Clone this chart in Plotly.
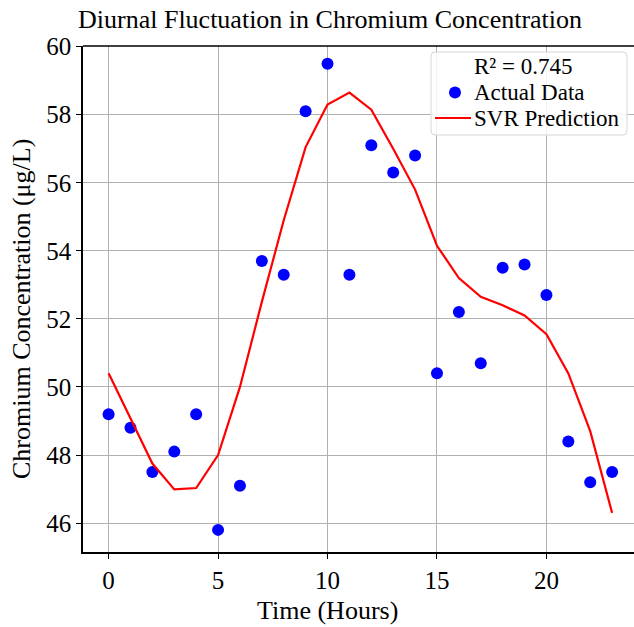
import plotly.graph_objects as go

hours = list(range(24))
actual = [49.2, 48.8, 47.5, 48.1, 49.2, 45.8, 47.1, 53.7, 53.3, 58.1, 59.5, 53.3,
          57.1, 56.3, 56.8, 50.4, 52.2, 50.7, 53.5, 53.6, 52.7, 48.4, 47.2, 47.5]
svr_pred = [50.4, 49.05, 47.75, 46.99, 47.03, 48.0, 50.0, 52.5, 54.9, 57.05, 58.3, 58.65,
            58.15, 57.0, 55.8, 54.15, 53.2, 52.65, 52.4, 52.1, 51.55, 50.4, 48.7, 46.3]
r2_label = "R² = 0.745"
legend_names = [r2_label, "Actual Data", "SVR Prediction"]
x_ticks = [0, 5, 10, 15, 20]
y_ticks = [46, 48, 50, 52, 54, 56, 58, 60]

FONT = "Liberation Serif, Times New Roman, serif"
BLUE = "#0000ff"
RED = "#ff0000"

# plot area in page pixels
PL, PT, PW, PH = 83, 46, 551, 506


def px(x):
    return (x - PL) / PW


def py(y):
    return 1 - (y - PT) / PH


fig = go.Figure()
fig.add_trace(go.Scatter(x=hours, y=actual, mode="markers", name="Actual Data",
                         marker=dict(color=BLUE, size=12), showlegend=False))
fig.add_trace(go.Scatter(x=hours, y=svr_pred, mode="lines", name="SVR Prediction",
                         line=dict(color=RED, width=2.2), showlegend=False))

axis_common = dict(
    showline=True, linecolor="black", linewidth=1.6,
    ticks="outside", ticklen=5, tickwidth=1.3, tickcolor="black",
    showgrid=True, gridcolor="#b0b0b0", gridwidth=1.3,
    zeroline=False, tickfont=dict(family=FONT, size=25, color="black"),
)

fig.update_layout(
    width=634, height=627,
    margin=dict(l=PL, r=0, t=PT, b=627 - PT - PH, autoexpand=False),
    paper_bgcolor="white", plot_bgcolor="white",
    font=dict(family=FONT, color="black"),
    xaxis=dict(range=[-1.17, 24.0], tickvals=x_ticks, mirror=False, **axis_common),
    yaxis=dict(range=[45.15, 60.02], tickvals=y_ticks, mirror=False, **axis_common),
    showlegend=False,
)
# top border line
fig.add_shape(type="line", xref="paper", yref="paper", x0=0, x1=1, y0=1, y1=1,
              line=dict(color="black", width=1.6))

# legend box (rounded)
bx0, bx1, by0, by1 = 431, 627, 52, 135
r = 4
path = (f"M {px(bx0 + r)},{py(by0)} L {px(bx1 - r)},{py(by0)} "
        f"Q {px(bx1)},{py(by0)} {px(bx1)},{py(by0 + r)} "
        f"L {px(bx1)},{py(by1 - r)} Q {px(bx1)},{py(by1)} {px(bx1 - r)},{py(by1)} "
        f"L {px(bx0 + r)},{py(by1)} Q {px(bx0)},{py(by1)} {px(bx0)},{py(by1 - r)} "
        f"L {px(bx0)},{py(by0 + r)} Q {px(bx0)},{py(by0)} {px(bx0 + r)},{py(by0)} Z")
fig.add_shape(type="path", xref="paper", yref="paper", path=path,
              fillcolor="rgba(255,255,255,0.85)", line=dict(color="#d6d6d6", width=1))
rows = [66.5, 92.5, 118]
for name, yy in zip(legend_names, rows):
    fig.add_annotation(text=name, xref="paper", yref="paper", x=px(472), y=py(yy),
                       xanchor="left", yanchor="middle", showarrow=False,
                       font=dict(family=FONT, size=23, color="black"))
# legend symbols
fig.add_shape(type="circle", xref="paper", yref="paper",
              x0=px(449), x1=px(461), y0=py(86.5), y1=py(98.5),
              fillcolor=BLUE, line=dict(color=BLUE, width=0))
fig.add_shape(type="line", xref="paper", yref="paper",
              x0=px(435), x1=px(471), y0=py(118), y1=py(118),
              line=dict(color=RED, width=2.2))

fig.add_annotation(text="Diurnal Fluctuation in Chromium Concentration",
                   xref="paper", yref="paper", x=px(329.5), y=py(19),
                   xanchor="center", yanchor="middle", showarrow=False,
                   font=dict(family=FONT, size=26, color="black"))
fig.add_annotation(text="Time (Hours)",
                   xref="paper", yref="paper", x=px(327), y=py(610),
                   xanchor="center", yanchor="middle", showarrow=False,
                   font=dict(family=FONT, size=26, color="black"))
fig.add_annotation(text="Chromium Concentration (μg/L)",
                   xref="paper", yref="paper", x=px(21), y=py(309),
                   xanchor="center", yanchor="middle", showarrow=False, textangle=-90,
                   font=dict(family=FONT, size=26, color="black"))

fig.write_html("out.html", config={"displayModeBar": False},
               post_script="document.body.style.margin='0';document.body.style.padding='0';")
